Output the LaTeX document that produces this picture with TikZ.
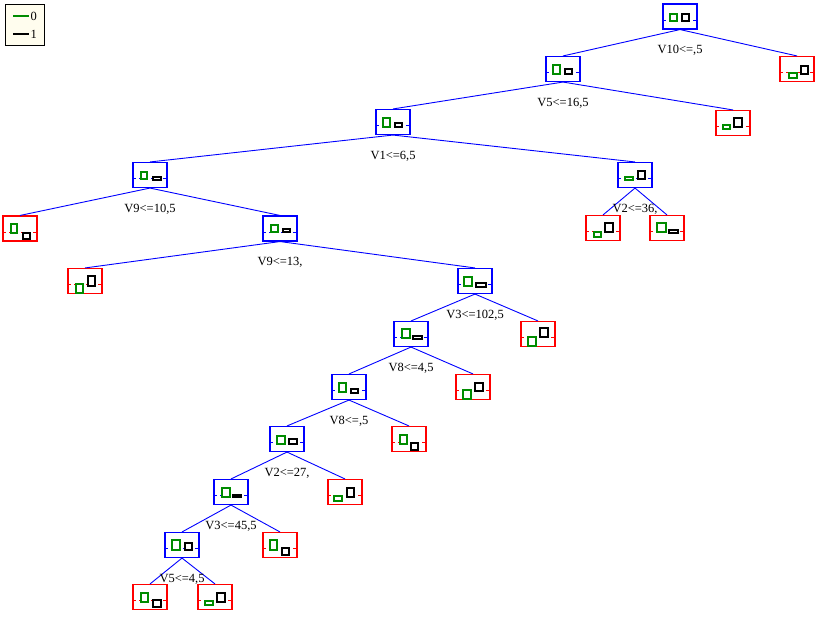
\documentclass[tikz,border=0pt]{standalone}
\usepackage{fontspec}
\setmainfont{Liberation Serif}
\usetikzlibrary{calc}
\definecolor{tblue}{RGB}{0,0,255}
\definecolor{tred}{RGB}{255,0,0}
\definecolor{tgreen}{RGB}{0,140,0}
\definecolor{legfill}{RGB}{255,253,238}
\tikzset{
  tbox/.style={draw, minimum width=34pt, minimum height=25pt, inner sep=0pt, line width=1.1pt},
  midline/.style={line width=0.6pt, dash pattern=on 3pt off 3pt},
  grect/.style={draw=tgreen, line width=2pt, fill=white},
  brect/.style={draw=black, line width=2pt, fill=white},
  edge/.style={draw=tblue, line width=0.9pt},
  lbl/.style={font=\fontsize{12.5}{14}\selectfont, inner sep=0pt}
}
\newcommand\tnode[7]{%
  \node[tbox, draw=#3] (#1) at #2 {};
  \draw[#3, midline] ($(#1.west)+(1,3.5)$) -- ($(#1.east)+(-1,3.5)$);
  \begin{scope}[shift={(#1.center)}]
    \draw[grect] ($#4+(0.4,0.4)$) rectangle ($#5+(-1,-0.4)$);
    \draw[brect] ($#6+(1,0.4)$) rectangle ($#7+(-0.4,-0.4)$);
  \end{scope}}
\begin{document}
\begin{tikzpicture}[x=1pt, y=-1pt]
\useasboundingbox (0,0) rectangle (821,619);
% legend
\node[draw=black, fill=legfill, line width=0.8pt, minimum width=38.5pt, minimum height=40.5pt, inner sep=0pt] (legend) at (24.75,24.75) {};
\draw[tgreen, line width=2pt] (13,16) -- (29,16);
\draw[black, line width=2pt] (13,34) -- (29,34);
\node[lbl, anchor=west] (leg0) at (30.5,16) {0};
\node[lbl, anchor=west] (leg1) at (30.5,34) {1};
% nodes
\tnode{root}{(680,16.5)}{tblue}{(-10,-2.5)}{(-2,4.5)}{(1,-2.5)}{(9,4.5)}
\tnode{r1}{(797,69)}{tred}{(-8,4)}{(1,9)}{(3,-3)}{(11,5)}
\tnode{n5}{(563,69)}{tblue}{(-10,-4)}{(-2,5)}{(1,0)}{(9,5)}
\tnode{r2}{(733,123)}{tred}{(-10,2)}{(-2,6)}{(0,-5)}{(9,4)}
\tnode{n1}{(393,122)}{tblue}{(-10,-4)}{(-2,5)}{(1,1)}{(9,5)}
\tnode{n9a}{(150,175)}{tblue}{(-9,-3)}{(-2,4)}{(2,2)}{(11,5)}
\tnode{n2a}{(635,175)}{tblue}{(-10,2)}{(-1,5)}{(2,-4)}{(10,4)}
\tnode{r3}{(20,228.5)}{tred}{(-9,-4.5)}{(-2,4.5)}{(2,4.5)}{(10,10.5)}
\tnode{n9b}{(280,228.5)}{tblue}{(-9,-4)}{(-1,4)}{(2,0)}{(10,4)}
\tnode{r4}{(603,228)}{tred}{(-9,4)}{(-1,9)}{(1,-5)}{(10,4)}
\tnode{r5}{(667,228)}{tred}{(-10,-5)}{(0,4)}{(1,2)}{(11,5)}
\tnode{r6}{(85,281)}{tred}{(-9,3)}{(-1,12)}{(2,-5)}{(10,5)}
\tnode{n3a}{(475,281)}{tblue}{(-11,-4)}{(-2,5)}{(0,2)}{(11,6)}
\tnode{n8a}{(411,334)}{tblue}{(-9,-5)}{(0,4)}{(1,2)}{(11,5)}
\tnode{r7}{(538,334)}{tred}{(-10,3)}{(-1,12)}{(1,-6)}{(10,3)}
\tnode{r8}{(473,387)}{tred}{(-10,3)}{(-1,12)}{(1,-4)}{(10,4)}
\tnode{n8b}{(349,387)}{tblue}{(-10,-4)}{(-2,5)}{(1,2)}{(9,6)}
\tnode{r9}{(409,439)}{tred}{(-9,-4)}{(-1,5)}{(1,4)}{(9,11)}
\tnode{n2b}{(287,439)}{tblue}{(-10,-3)}{(-1,5)}{(1,0)}{(10,5)}
\tnode{r10}{(345,492)}{tred}{(-11,4)}{(-2,9)}{(1,-4)}{(9,5)}
\tnode{n3b}{(231,492)}{tblue}{(-9,-4)}{(0,5)}{(1,3)}{(10,5)}
\tnode{n5b}{(182,545)}{tblue}{(-10,-5)}{(-1,5)}{(2,-2)}{(10,5)}
\tnode{r11}{(280,545)}{tred}{(-10,-5)}{(-2,5)}{(1,3)}{(9,10)}
\tnode{r12}{(150,597)}{tred}{(-9,-4)}{(-1,5)}{(2,3)}{(11,10)}
\tnode{r13}{(215,597)}{tred}{(-10,4)}{(-1,8)}{(1,-4)}{(10,5)}
% edges
\foreach \p/\c in {root/n5, root/r1, n5/n1, n5/r2, n1/n9a, n1/n2a, n9a/r3, n9a/n9b,
  n2a/r4, n2a/r5, n9b/r6, n9b/n3a, n3a/n8a, n3a/r7, n8a/n8b, n8a/r8, n8b/n2b, n8b/r9,
  n2b/n3b, n2b/r10, n3b/n5b, n3b/r11, n5b/r12, n5b/r13}
  \draw[edge] (\p.south) -- (\c.north);
% labels
\node[lbl] (lroot) at ($(root.center)+(0,34)$) {V10<=,5};
\node[lbl] (ln5) at ($(n5.center)+(0,34)$) {V5<=16,5};
\node[lbl] (ln1) at ($(n1.center)+(0,34)$) {V1<=6,5};
\node[lbl] (ln9a) at ($(n9a.center)+(0,34)$) {V9<=10,5};
\node[lbl] (ln2a) at ($(n2a.center)+(0,34)$) {V2<=36,};
\node[lbl] (ln9b) at ($(n9b.center)+(0,34)$) {V9<=13,};
\node[lbl] (ln3a) at ($(n3a.center)+(0,34)$) {V3<=102,5};
\node[lbl] (ln8a) at ($(n8a.center)+(0,34)$) {V8<=4,5};
\node[lbl] (ln8b) at ($(n8b.center)+(0,34)$) {V8<=,5};
\node[lbl] (ln2b) at ($(n2b.center)+(0,34)$) {V2<=27,};
\node[lbl] (ln3b) at ($(n3b.center)+(0,34)$) {V3<=45,5};
\node[lbl] (ln5b) at ($(n5b.center)+(0,34)$) {V5<=4,5};
\end{tikzpicture}
\end{document}
